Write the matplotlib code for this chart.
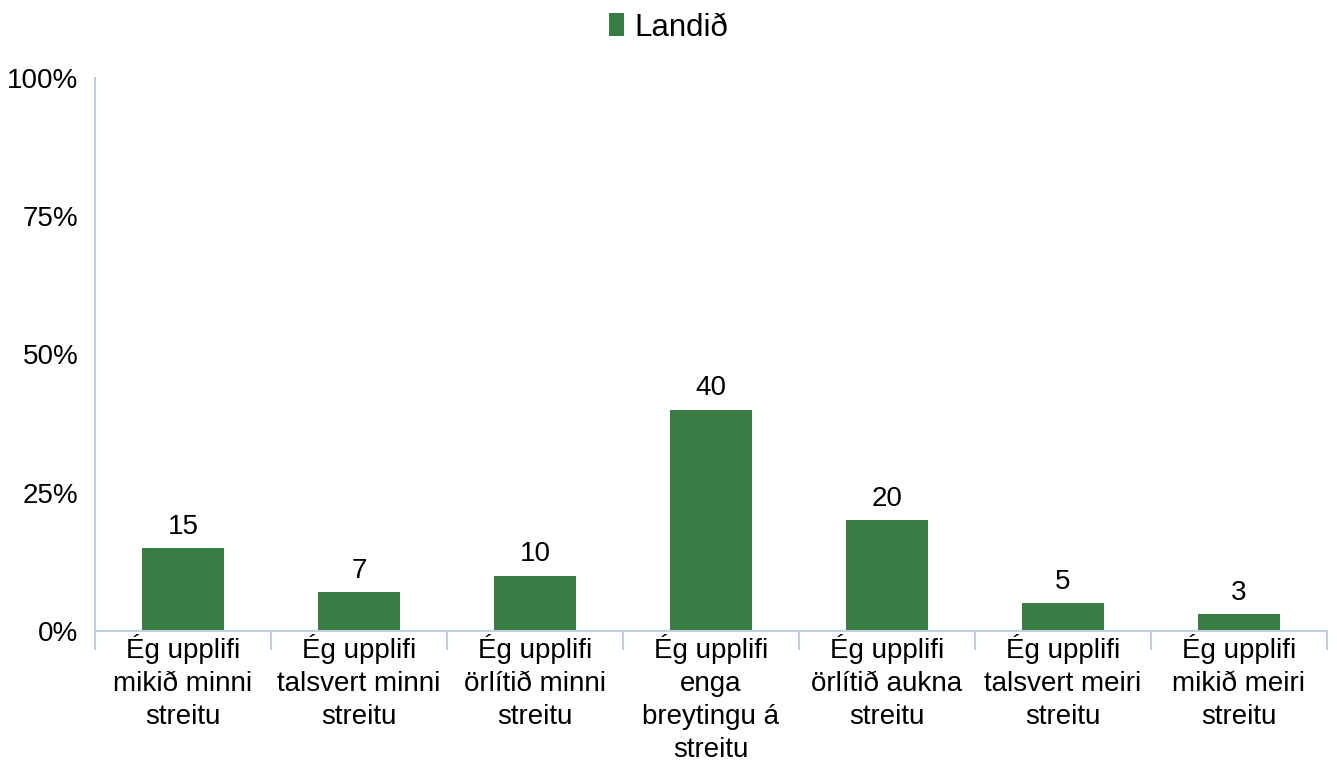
import matplotlib
matplotlib.use("Agg")
import matplotlib.pyplot as plt
from matplotlib.patches import Patch

categories = [
    "Ég upplifi\nmikið minni\nstreitu",
    "Ég upplifi\ntalsvert minni\nstreitu",
    "Ég upplifi\nörlítið minni\nstreitu",
    "Ég upplifi\nenga\nbreytingu á\nstreitu",
    "Ég upplifi\nörlítið aukna\nstreitu",
    "Ég upplifi\ntalsvert meiri\nstreitu",
    "Ég upplifi\nmikið meiri\nstreitu",
]
values = [15, 7, 10, 40, 20, 5, 3]
series_name = "Landið"
y_ticks = [0, 25, 50, 75, 100]

BAR_COLOR = "#3a7d44"
AXIS_COLOR = "#c3cddb"
FS = 20

plt.rcParams["font.family"] = ["Liberation Sans", "DejaVu Sans"]

fig = plt.figure(figsize=(13.37, 7.62), dpi=100)
W, H = 1337, 762
ax = fig.add_axes([95 / W, (H - 631) / H, 1232 / W, 553 / H])

x = list(range(len(categories)))
ax.bar(x, values, width=0.47, color=BAR_COLOR, zorder=2)
for xi, v in zip(x, values):
    ax.annotate(str(v), (xi, v), xytext=(0, 6), textcoords="offset points",
                ha="center", va="bottom", fontsize=FS)

ax.set_xlim(-0.5, len(categories) - 0.5)
ax.set_ylim(0, 100)
ax.set_yticks(y_ticks)
ax.set_yticklabels([f"{t}%" for t in y_ticks], fontsize=FS)
ax.tick_params(axis="y", length=0, pad=12)

ax.set_xticks(x)
ax.set_xticklabels(categories, fontsize=FS, linespacing=1.36)
ax.tick_params(axis="x", which="major", length=0, pad=2)
ax.set_xticks([i - 0.5 for i in range(len(categories) + 1)], minor=True)
ax.tick_params(axis="x", which="minor", length=14, width=1.5, color=AXIS_COLOR)

for side in ("top", "right"):
    ax.spines[side].set_visible(False)
for side in ("left", "bottom"):
    ax.spines[side].set_color(AXIS_COLOR)
    ax.spines[side].set_linewidth(1.5)

handle = Patch(facecolor=BAR_COLOR, edgecolor="none")
fig.legend([handle], [series_name], loc="upper center",
           bbox_to_anchor=(0.5, 1.0), frameon=False, fontsize=22.5,
           handlelength=0.48, handleheight=0.74, handletextpad=0.32,
           borderaxespad=0.0)

fig.savefig("out.png", dpi=100)
